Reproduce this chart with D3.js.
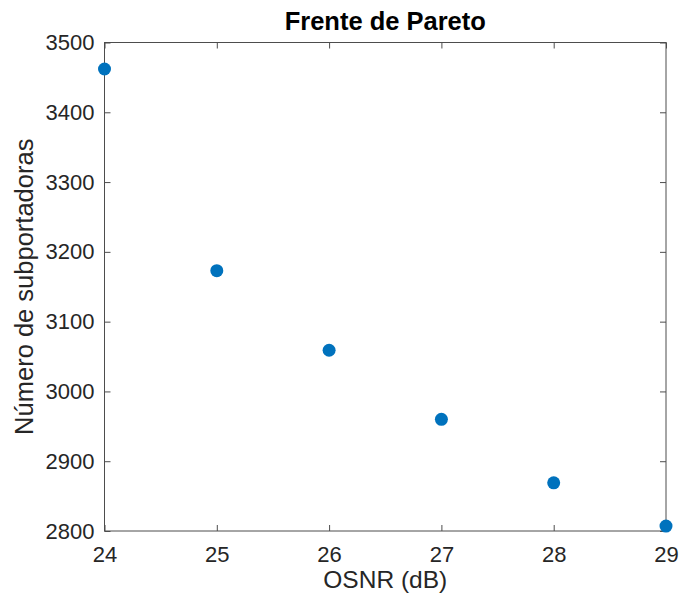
<!DOCTYPE html>
<html><head><meta charset="utf-8">
<script src="https://cdn.jsdelivr.net/npm/d3@7"></script>
<style>body{margin:0;background:#fff;} text{font-family:"Liberation Sans",Arial,sans-serif;}</style>
</head><body>
<svg id="c" width="681" height="602"></svg>
<script>
const osnr = [24, 25, 26, 27, 28, 29];
const subportadoras = [3462, 3173, 3059, 2960, 2869, 2807];
const xTicks = [24, 25, 26, 27, 28, 29];
const yTicks = [2800, 2900, 3000, 3100, 3200, 3300, 3400, 3500];

const svg = d3.select("#c");
const L = 104.5, R = 666, T = 42.5, B = 531;
const x = d3.scaleLinear().domain([24, 29]).range([L, R]);
const y = d3.scaleLinear().domain([2800, 3500]).range([B, T]);
const axisCol = "#4d4d4d", textCol = "#262626";

svg.append("rect").attr("x", L).attr("y", T).attr("width", R - L).attr("height", B - T)
  .attr("fill", "none").attr("stroke", axisCol).attr("stroke-width", 1);

function styleAxis(g){
  g.select(".domain").remove();
  g.selectAll(".tick line").attr("stroke", axisCol);
  g.selectAll(".tick text").attr("fill", textCol).style("font-size", "22px")
    .style("font-family", "'Liberation Sans',Arial,sans-serif");
}
const tl = 6;
svg.append("g").attr("transform", `translate(0,${B})`)
  .call(d3.axisBottom(x).tickValues(xTicks).tickFormat(d3.format("d")).tickSizeInner(-tl).tickPadding(15))
  .call(styleAxis);
svg.append("g").attr("transform", `translate(0,${T})`)
  .call(d3.axisTop(x).tickValues(xTicks).tickFormat("").tickSizeInner(-tl))
  .call(styleAxis);
svg.append("g").attr("transform", `translate(${L},0)`)
  .call(d3.axisLeft(y).tickValues(yTicks).tickFormat(d3.format("d")).tickSizeInner(-tl).tickPadding(10))
  .call(styleAxis);
svg.append("g").attr("transform", `translate(${R},0)`)
  .call(d3.axisRight(y).tickValues(yTicks).tickFormat("").tickSizeInner(-tl))
  .call(styleAxis);

svg.selectAll("circle.pt").data(osnr).enter().append("circle").attr("class", "pt")
  .attr("cx", d => x(d)).attr("cy", (d, i) => y(subportadoras[i])).attr("r", 6.5)
  .attr("fill", "#0072BD");

svg.append("text").attr("x", (L + R) / 2).attr("y", 30).attr("text-anchor", "middle")
  .attr("fill", "#000").style("font-size", "25.5px").style("font-weight", "bold").text("Frente de Pareto");
svg.append("text").attr("x", (L + R) / 2).attr("y", 588).attr("text-anchor", "middle")
  .attr("fill", textCol).style("font-size", "24.5px").text("OSNR (dB)");
svg.append("text").attr("transform", `translate(33,${(T + B) / 2}) rotate(-90)`).attr("text-anchor", "middle")
  .attr("fill", textCol).style("font-size", "25.5px").text("Número de subportadoras");
</script>
</body></html>
